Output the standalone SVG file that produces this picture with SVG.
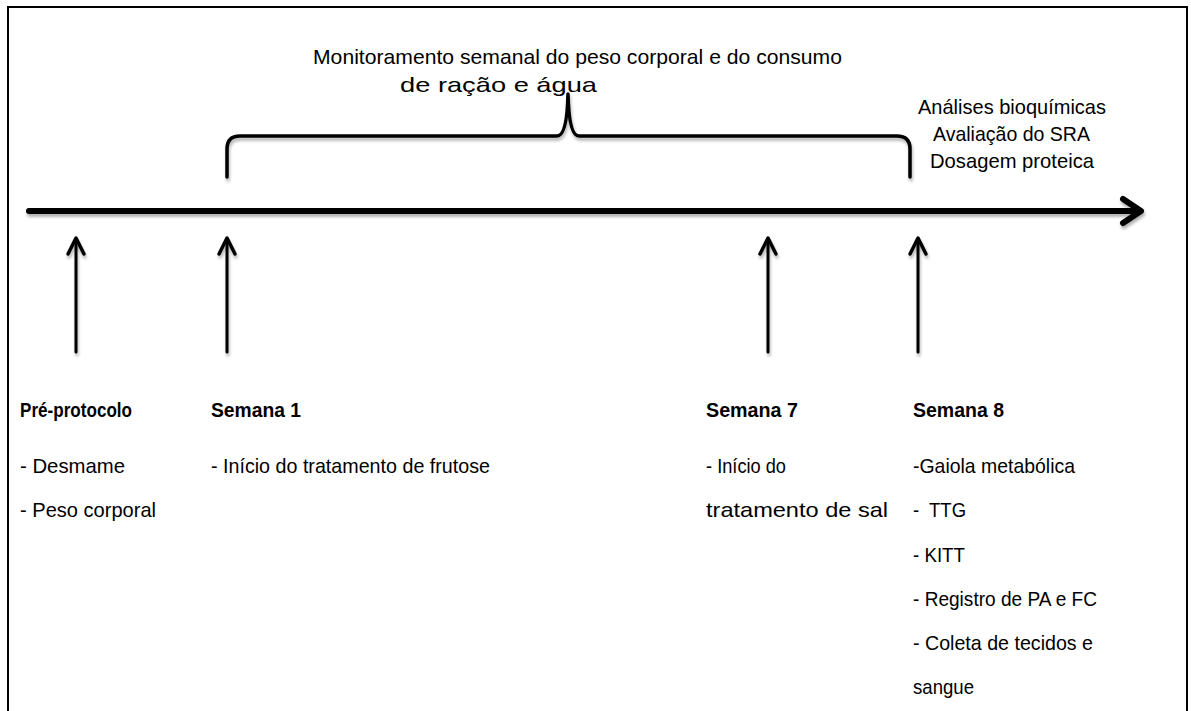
<svg xmlns="http://www.w3.org/2000/svg" width="1191" height="711" viewBox="0 0 1191 711">
<style>
.t{font-family:"Liberation Sans",Arial,sans-serif;font-size:21px;fill:#000}
.b{font-weight:bold}
.ln{stroke:#000;fill:none;stroke-linecap:round;stroke-linejoin:round}
</style>
<defs>
<filter id="sh" x="-5%" y="-20%" width="110%" height="160%">
<feDropShadow dx="1" dy="3" stdDeviation="1.5" flood-color="#000" flood-opacity="0.3"/>
</filter>
</defs>
<rect x="0" y="0" width="1191" height="711" fill="#fff"/>
<path d="M8,711 V7 H1187 V711" fill="none" stroke="#000" stroke-width="2"/>
<g id="connectors" filter="url(#sh)">
<g id="axis">
<line class="ln" x1="29" y1="211" x2="1138" y2="211" stroke-width="6" stroke-linecap="butt"/>
<polyline class="ln" points="1123,199 1141,211 1123,223" stroke-width="6"/>
</g>
<g id="brace">
<path class="ln" stroke-width="3.5" d="M227,177 V149 Q227,136 240,136 H557 Q567,136 568,94 Q569,136 579,136 H897 Q910,136 910,149 V177"/>
</g>
<g id="arrow-pre">
<line class="ln" x1="76" y1="352" x2="76" y2="239" stroke-width="3"/>
<polyline class="ln" points="68,254 76,238 84,254" stroke-width="3.5"/>
</g>
<g id="arrow-s1">
<line class="ln" x1="227" y1="352" x2="227" y2="239" stroke-width="3"/>
<polyline class="ln" points="219,254 227,238 235,254" stroke-width="3.5"/>
</g>
<g id="arrow-s7">
<line class="ln" x1="768" y1="352" x2="768" y2="239" stroke-width="3"/>
<polyline class="ln" points="760,254 768,238 776,254" stroke-width="3.5"/>
</g>
<g id="arrow-s8">
<line class="ln" x1="918" y1="352" x2="918" y2="239" stroke-width="3"/>
<polyline class="ln" points="910,254 918,238 926,254" stroke-width="3.5"/>
</g>
</g>
<g id="monitoring-label">
<text class="t" x="313" y="64" textLength="529" lengthAdjust="spacingAndGlyphs">Monitoramento semanal do peso corporal e do consumo</text>
<text class="t" x="400" y="92" textLength="197" lengthAdjust="spacingAndGlyphs">de ração e água</text>
</g>
<g id="final-analyses">
<text class="t" x="918" y="114" textLength="188" lengthAdjust="spacingAndGlyphs">Análises bioquímicas</text>
<text class="t" x="933" y="141" textLength="157" lengthAdjust="spacingAndGlyphs">Avaliação do SRA</text>
<text class="t" x="930" y="168" textLength="164" lengthAdjust="spacingAndGlyphs">Dosagem proteica</text>
</g>
<g id="pre-protocolo">
<text class="t b" x="20" y="417" textLength="112" lengthAdjust="spacingAndGlyphs">Pré-protocolo</text>
<text class="t" x="20" y="473" textLength="105" lengthAdjust="spacingAndGlyphs">- Desmame</text>
<text class="t" x="20" y="517" textLength="136" lengthAdjust="spacingAndGlyphs">- Peso corporal</text>
</g>
<g id="semana-1">
<text class="t b" x="211" y="417" textLength="90" lengthAdjust="spacingAndGlyphs">Semana 1</text>
<text class="t" x="211" y="473" textLength="279" lengthAdjust="spacingAndGlyphs">- Início do tratamento de frutose</text>
</g>
<g id="semana-7">
<text class="t b" x="706" y="417" textLength="92" lengthAdjust="spacingAndGlyphs">Semana 7</text>
<text class="t" x="706" y="473" textLength="80" lengthAdjust="spacingAndGlyphs">- Início do</text>
<text class="t" x="706" y="517" textLength="182" lengthAdjust="spacingAndGlyphs">tratamento de sal</text>
</g>
<g id="semana-8">
<text class="t b" x="913" y="417" textLength="91" lengthAdjust="spacingAndGlyphs">Semana 8</text>
<text class="t" x="913" y="473" textLength="162" lengthAdjust="spacingAndGlyphs">-Gaiola metabólica</text>
<text class="t" x="913" y="517" textLength="53" lengthAdjust="spacingAndGlyphs" xml:space="preserve">-  TTG</text>
<text class="t" x="913" y="562" textLength="52" lengthAdjust="spacingAndGlyphs">- KITT</text>
<text class="t" x="913" y="606" textLength="184" lengthAdjust="spacingAndGlyphs">- Registro de PA e FC</text>
<text class="t" x="913" y="650" textLength="180" lengthAdjust="spacingAndGlyphs">- Coleta de tecidos e</text>
<text class="t" x="913" y="694" textLength="61" lengthAdjust="spacingAndGlyphs">sangue</text>
</g>
</svg>
